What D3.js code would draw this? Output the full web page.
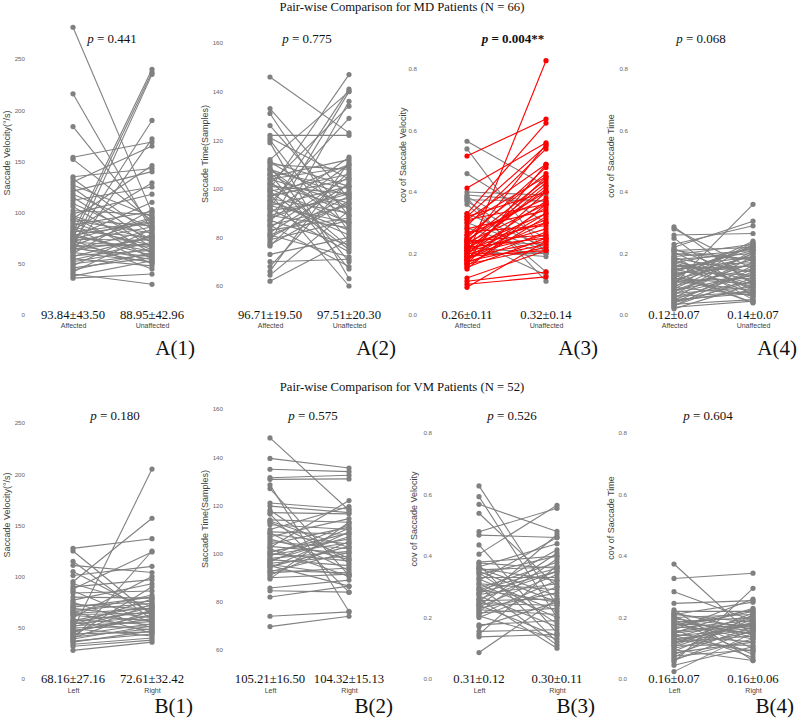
<!DOCTYPE html>
<html><head><meta charset="utf-8">
<script src="https://cdn.jsdelivr.net/npm/d3@7"></script>
<style>body{margin:0;background:#fff}</style>
</head><body>
<svg id="c" width="798" height="718"></svg>
<script>
// ---------- DATA ----------
const mdCats = ["Affected", "Unaffected"];
const vmCats = ["Left", "Right"];

const mdVelAffected = [281,216,184,154,152,135,133,130,127,124,121,118,115,112,109,106,102,99,97,96,94,92,90,88,86,85,83,82,80,79,78,77,76,75,74,73,72,71,70,69,68,67,66,65,64,63,62,61,60,58,57,55,54,52,50,48,46,44,42,40,38,36,93,81,74,66];
const mdVelUnaffected = [100,82,88,169,92,143,78,165,96,70,140,85,66,125,74,60,98,118,72,55,146,80,64,101,68,50,129,76,240,58,90,62,110,237,73,45,86,67,190,54,94,69,235,57,83,75,172,52,103,63,77,48,71,65,59,84,56,61,79,30,53,40,87,91,95,51];

const mdTimeAffected = [146,133,131,126,122,121,120,119,112,111,110,109,108,107,106,105,104,103,102,101,100,99,98,97,96,95,94,93,92,91,90,89,88,87,86,85,84,83,82,81,80,79,78,77,76.5,73,70,68,66,64.5,62,100,95,104,99,92,89,85,108,97,102,93,87,111,106,81];
const mdTimeUnaffected = [123,96,82,89,122,104,78,63,140,92,108,70,85,100,67,112,94,76,134,98,86,106,60,110,90,81,129,101,74,96,113,84,99,77,140,93,105,88,102,72,97,87,136,95,107,80,71,103,111,91,79,147,83,109,75,141,98,68,97,104,92,86,110,101,89,94];

const mdCovVelAffected = [0.565,0.54,0.46,0.40,0.39,0.385,0.38,0.37,0.375,0.36,0.33,0.30,0.283,0.25,0.24,0.22,0.21,0.20,0.19,0.517,0.413,0.33,0.32,0.31,0.30,0.29,0.25,0.245,0.24,0.235,0.23,0.225,0.22,0.215,0.21,0.205,0.20,0.198,0.195,0.19,0.185,0.18,0.178,0.175,0.17,0.168,0.165,0.16,0.155,0.15,0.12,0.11,0.10,0.09,0.26,0.27,0.28,0.22,0.21,0.19,0.18,0.23,0.24,0.32,0.31,0.26];
const mdCovVelUnaffected = [0.42,0.20,0.30,0.39,0.37,0.25,0.11,0.21,0.37,0.14,0.22,0.21,0.20,0.13,0.23,0.20,0.19,0.20,0.827,0.637,0.56,0.624,0.55,0.49,0.45,0.54,0.48,0.40,0.44,0.36,0.555,0.43,0.33,0.41,0.31,0.28,0.37,0.26,0.45,0.24,0.35,0.30,0.49,0.23,0.27,0.40,0.22,0.32,0.25,0.36,0.21,0.14,0.124,0.24,0.38,0.29,0.34,0.25,0.42,0.21,0.33,0.30,0.26,0.40,0.36,0.46];

const mdCovTimeAffected = [0.287,0.28,0.26,0.25,0.23,0.22,0.215,0.21,0.205,0.20,0.195,0.19,0.185,0.18,0.175,0.17,0.165,0.16,0.155,0.15,0.145,0.14,0.135,0.13,0.125,0.12,0.115,0.11,0.105,0.10,0.095,0.09,0.085,0.08,0.075,0.07,0.065,0.06,0.055,0.05,0.045,0.04,0.035,0.03,0.025,0.02,0.10,0.12,0.14,0.16,0.08,0.06,0.13,0.11,0.09,0.07,0.15,0.17,0.19,0.21,0.05,0.04,0.03,0.12,0.14,0.18];
const mdCovTimeUnaffected = [0.10,0.15,0.265,0.06,0.29,0.305,0.12,0.22,0.08,0.18,0.23,0.05,0.14,0.20,0.11,0.215,0.07,0.17,0.19,0.09,0.21,0.13,0.16,0.04,0.225,0.10,0.18,0.12,0.235,0.36,0.15,0.065,0.20,0.13,0.17,0.09,0.21,0.11,0.19,0.14,0.08,0.16,0.05,0.12,0.045,0.10,0.20,0.06,0.22,0.14,0.17,0.075,0.19,0.08,0.23,0.13,0.16,0.10,0.21,0.18,0.07,0.11,0.15,0.24,0.04,0.09];

const vmVelLeft = [127.6,125,115,111,105,101,95,93,90,88,86,84,80,77,75,73,71,69,67,66,65,63,62,60,58,57,56,55,54,53,52,51,50,49,48,47,46,45,44,43,42,41,40,39,38,37,36,34,32,28,70,64];
const vmVelRight = [137,62,58,104,65,110,157,71,97,124,55,86,79,93,50,68,76,60,74,45,82,64,57,100,53,72,66,48,61,78,56,70,51,42,205,59,63,73,46,54,90,49,67,52,125,44,47,40,38,36,80,69];

const vmTimeLeft = [148,139.5,135,131.5,130.8,128.5,127,121,119.7,118,117,116.4,114,113,112,110,109,108.5,108,105,104,103,102,101,100,99,98,97.5,97,96,95,94.5,94,93,92.5,92,91,90,89.5,85.7,84.6,82,74,69.7,102.5,106,99.5,96.5,113.5,107,95.5,100.5];
const vmTimeRight = [118,135.5,134,132.5,131,76,91,118.5,117,96,116.5,84,113,98,110,119.5,108,93,104,102,111,100,90.5,106,97,112,101,95,107,99,86.5,103,109,92,100.5,94,105,91.5,113,89,84,86.5,75.8,74,122,97.5,104.5,110.5,102.5,114.5,91,108.5];

const vmCovVelLeft = [0.628,0.593,0.568,0.539,0.479,0.468,0.436,0.406,0.377,0.37,0.365,0.36,0.355,0.345,0.34,0.33,0.325,0.32,0.31,0.30,0.295,0.29,0.28,0.275,0.27,0.26,0.255,0.25,0.245,0.24,0.235,0.23,0.225,0.22,0.215,0.21,0.205,0.20,0.176,0.17,0.155,0.145,0.137,0.086,0.38,0.35,0.31,0.28,0.26,0.24,0.36,0.29];
const vmCovVelRight = [0.24,0.20,0.48,0.30,0.555,0.46,0.15,0.565,0.36,0.12,0.44,0.27,0.365,0.18,0.40,0.33,0.22,0.46,0.29,0.11,0.38,0.25,0.42,0.31,0.17,0.35,0.26,0.47,0.24,0.14,0.34,0.28,0.21,0.39,0.23,0.32,0.13,0.30,0.19,0.25,0.16,0.37,0.145,0.26,0.40,0.25,0.20,0.35,0.10,0.41,0.32,0.36];

const vmCovTimeLeft = [0.374,0.327,0.284,0.246,0.225,0.22,0.215,0.21,0.205,0.20,0.195,0.19,0.185,0.18,0.175,0.17,0.165,0.16,0.155,0.15,0.145,0.14,0.135,0.13,0.125,0.12,0.115,0.11,0.105,0.10,0.095,0.09,0.085,0.08,0.075,0.07,0.065,0.06,0.055,0.045,0.024,0.21,0.19,0.17,0.15,0.13,0.11,0.16,0.20,0.14,0.18,0.12];
const vmCovTimeRight = [0.14,0.344,0.19,0.255,0.06,0.22,0.16,0.25,0.10,0.21,0.17,0.08,0.20,0.13,0.225,0.15,0.19,0.07,0.18,0.23,0.12,0.165,0.205,0.09,0.175,0.14,0.215,0.11,0.185,0.155,0.06,0.195,0.12,0.17,0.095,0.21,0.13,0.16,0.295,0.105,0.15,0.185,0.145,0.22,0.175,0.16,0.20,0.26,0.135,0.09,0.165,0.18];

const meanSdLabels = [
  ["93.84±43.50","88.95±42.96"], ["96.71±19.50","97.51±20.30"], ["0.26±0.11","0.32±0.14"], ["0.12±0.07","0.14±0.07"],
  ["68.16±27.16","72.61±32.42"], ["105.21±16.50","104.32±15.13"], ["0.31±0.12","0.30±0.11"], ["0.16±0.07","0.16±0.06"]
];
const pValues = ["0.441","0.775","0.004**","0.068","0.180","0.575","0.526","0.604"];
const yTitles = ["Saccade Velocity(°/s)","Saccade Time(Samples)","cov of Saccade Velocity","cov of Saccade Time"];
const panelTags = ["A(1)","A(2)","A(3)","A(4)","B(1)","B(2)","B(3)","B(4)"];
const rowTitles = ["Pair-wise Comparison for MD Patients (N = 66)", "Pair-wise Comparison for VM Patients (N = 52)"];
const velTicks = [0,50,100,150,200,250];
const timeTicks = [60,80,100,120,140,160];
const covTicks = [0,0.2,0.4,0.6,0.8];

// ---------- LAYOUT ----------
const SERIF = "'Liberation Serif','Times New Roman',Times,serif";
const SANS = "Arial,'Liberation Sans',Helvetica,sans-serif";
const GREY = "#808080", RED = "#ff0000";

const rows = [
  {titleY: 10.5, pY: 43, meanY: 318.5, catY: 328, tagY: 355},
  {titleY: 391, pY: 420, meanY: 683, catY: 692.5, tagY: 713}
];

const panels = [
  {row:0, cats:mdCats, a:mdVelAffected, b:mdVelUnaffected, ticks:velTicks, fmt:d3.format("d"), dom:[0,250], rng:[315,59], xL:73, xR:152, tickEnd:25, tX:10, tY:153, pX:112, tagEnd:195, title:0},
  {row:0, cats:mdCats, a:mdTimeAffected, b:mdTimeUnaffected, ticks:timeTicks, fmt:d3.format("d"), dom:[60,160], rng:[286,43], xL:270, xR:349, tickEnd:223, tX:208, tY:154, pX:307, tagEnd:396, title:1},
  {row:0, cats:mdCats, a:mdCovVelAffected, b:mdCovVelUnaffected, ticks:covTicks, fmt:d3.format(".1f"), dom:[0,0.8], rng:[315,69], xL:467, xR:546, tickEnd:417, tX:406, tY:155, pX:513, tagEnd:598, title:2, highlight:true, bold:true},
  {row:0, cats:mdCats, a:mdCovTimeAffected, b:mdCovTimeUnaffected, ticks:covTicks, fmt:d3.format(".1f"), dom:[0,0.8], rng:[315,69], xL:674, xR:753, tickEnd:628, tX:614, tY:156, pX:701, tagEnd:797, title:3, topClip:true},
  {row:1, cats:vmCats, a:vmVelLeft, b:vmVelRight, ticks:velTicks, fmt:d3.format("d"), dom:[0,250], rng:[679,423], xL:73, xR:152, tickEnd:25, tX:10, tY:515, pX:115, tagEnd:193, title:0},
  {row:1, cats:vmCats, a:vmTimeLeft, b:vmTimeRight, ticks:timeTicks, fmt:d3.format("d"), dom:[60,160], rng:[650,409], xL:270, xR:349, tickEnd:223, tX:208, tY:519, pX:313, tagEnd:393, title:1},
  {row:1, cats:vmCats, a:vmCovVelLeft, b:vmCovVelRight, ticks:covTicks, fmt:d3.format(".1f"), dom:[0,0.8], rng:[679,433], xL:479, xR:557, tickEnd:432, tX:417, tY:519, pX:512, tagEnd:595, title:2},
  {row:1, cats:vmCats, a:vmCovTimeLeft, b:vmCovTimeRight, ticks:covTicks, fmt:d3.format(".1f"), dom:[0,0.8], rng:[679,433], xL:674, xR:753, tickEnd:627, tX:614, tY:518, pX:708, tagEnd:794, title:3}
];

const svg = d3.select("#c");
svg.append("rect").attr("width",798).attr("height",718).attr("fill","#fff");

rows.forEach((r,i) => {
  svg.append("text").attr("x", 402).attr("y", r.titleY).attr("text-anchor","middle")
    .attr("font-family", SERIF).attr("font-size", 12.7).attr("fill","#111").text(rowTitles[i]);
});

const defs = svg.append("defs");
defs.append("clipPath").attr("id","topclip").append("rect").attr("x",600).attr("y",9).attr("width",60).attr("height",20);

panels.forEach((p, idx) => {
  const r = rows[p.row];
  const g = svg.append("g");
  const x = d3.scalePoint().domain(p.cats).range([p.xL, p.xR]);
  const y = d3.scaleLinear().domain(p.dom).range(p.rng);

  // y axis (tick labels only)
  const ax = g.append("g").attr("transform", `translate(${p.tickEnd},0)`)
    .call(d3.axisLeft(y).tickValues(p.ticks).tickFormat(p.fmt).tickSize(0).tickPadding(0));
  ax.select(".domain").remove();
  ax.selectAll("text").attr("font-family", SANS).attr("font-size", 6.2).attr("fill", "#666");

  if (p.topClip) {
    const ax2 = g.append("g").attr("clip-path","url(#topclip)").attr("transform", `translate(${p.tickEnd},0)`)
      .call(d3.axisLeft(y).tickValues([1.0]).tickFormat(p.fmt).tickSize(0).tickPadding(0));
    ax2.select(".domain").remove();
    ax2.selectAll("text").attr("font-family", SANS).attr("font-size", 6.2).attr("fill", "#666");
  }

  // y title
  g.append("text").attr("transform", `translate(${p.tX},${p.tY}) rotate(-90)`).attr("text-anchor","middle")
    .attr("font-family", SANS).attr("font-size", 9).attr("fill", "#444").text(yTitles[p.title]);

  const pairs = p.a.map((v, i) => ({a: v, b: p.b[i], up: p.highlight && p.b[i] > v}));
  const ordered = pairs.filter(d => !d.up).concat(pairs.filter(d => d.up));
  const col = d => d.up ? RED : GREY;

  g.selectAll("line.pair").data(ordered).join("line").attr("class","pair")
    .attr("x1", x(p.cats[0])).attr("x2", x(p.cats[1]))
    .attr("y1", d => y(d.a)).attr("y2", d => y(d.b))
    .attr("stroke", col).attr("stroke-width", 1.1);

  g.selectAll("circle.l").data(ordered).join("circle").attr("class","l")
    .attr("cx", x(p.cats[0])).attr("cy", d => y(d.a)).attr("r", 2.6).attr("fill", col);
  g.selectAll("circle.r").data(ordered).join("circle").attr("class","r")
    .attr("cx", x(p.cats[1])).attr("cy", d => y(d.b)).attr("r", 2.6).attr("fill", col);

  // category labels
  const cx = g.append("g").attr("transform", `translate(0,${r.catY})`)
    .call(d3.axisBottom(x).tickSize(0).tickPadding(0));
  cx.select(".domain").remove();
  cx.selectAll("text").attr("dy", 0).attr("y", 0).attr("font-family", SANS).attr("font-size", 7).attr("fill", "#444");

  // mean ± sd
  g.selectAll("text.ms").data(p.cats).join("text").attr("class","ms")
    .attr("x", d => x(d)).attr("y", r.meanY).attr("text-anchor","middle")
    .attr("font-family", SERIF).attr("font-size", 12.7).attr("fill", "#111")
    .text((d, i) => meanSdLabels[idx][i]);

  // p value
  const pt = g.append("text").attr("x", p.pX).attr("y", r.pY).attr("text-anchor","middle")
    .attr("font-family", SERIF).attr("font-size", 13).attr("fill", "#111")
    .attr("font-weight", p.bold ? "bold" : "normal");
  pt.append("tspan").attr("font-style","italic").text("p");
  pt.append("tspan").text(" = " + pValues[idx]);

  // panel tag
  g.append("text").attr("x", p.tagEnd).attr("y", r.tagY).attr("text-anchor","end")
    .attr("font-family", SERIF).attr("font-size", 21).attr("fill", "#111").text(panelTags[idx]);
});
</script>
</body></html>
